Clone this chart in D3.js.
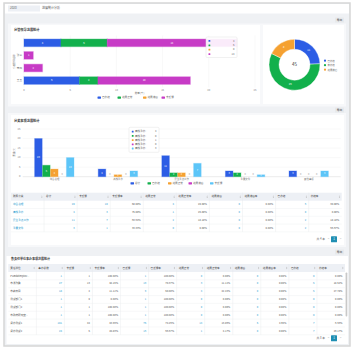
<!DOCTYPE html>
<html>
<head>
<meta charset="utf-8">
<script src="https://cdn.jsdelivr.net/npm/d3@7"></script>
<style>
  body { margin: 0; background: #fff; }
  svg { display: block; font-family: "Noto Sans CJK SC", "Noto Sans", sans-serif; }
</style>
</head>
<body>
<script>
// ---- data ----
const leaders = ["", "张三", "李四", "王五"];
const leaderDone = [4, 0, 0, 6];
const leaderNormal = [5, 0, 0, 2];
const leaderLate = [0, 0, 0, 0];
const leaderNoFeedback = [14, 1, 2, 10];
const leaderKeys = ["已办结", "进展正常", "进展滞后", "未反馈"];

const pieLabels = ["已办结", "未办结", "进展滞后"];
const pieValues = [11, 26, 8];

const categories = ["综合治理", "高铁重办", "民生重点工作", "重要文件", "其他事项"];
const catTotal = [20, 4, 11, 3, 3];
const catDone = [6, 0, 2, 2, 0];
const catNormal = [4, 1, 2, 0, 0];
const catLate = [0, 0, 0, 0, 0];
const catNoFeedback = [10, 3, 7, 1, 3];
const catKeys = ["总计", "已办结", "进展正常", "进展滞后", "未反馈"];

const table1Head = ["所属分类", "总计", "未反馈", "未反馈率", "进展正常", "进展正常率", "进展滞后", "进展滞后率", "已办结", "办结率"];
const table1Rows = [
  ["综合治理", "20", "10", "50.00%", "4", "20.00%", "0", "0.00%", "6", "30.00%"],
  ["高铁重办", "4", "3", "75.00%", "1", "25.00%", "0", "0.00%", "0", "0.00%"],
  ["民生重点工作", "11", "7", "63.64%", "2", "18.18%", "0", "0.00%", "2", "18.18%"],
  ["重要文件", "3", "1", "33.33%", "0", "0.00%", "0", "0.00%", "2", "66.67%"]
];

const table2Head = ["责任单位", "事办总数", "未反馈", "未反馈率", "已反馈", "已反馈率", "进展正常", "进展正常率", "进展滞后", "进展滞后率", "已办结", "办结率"];
const table2Rows = [
  ["PUBdatmpiov...", "1", "1", "100.00%", "1", "100.00%", "0", "0.00%", "0", "0.00%", "0", "0.00%"],
  ["市发改委", "27", "13", "48.15%", "19", "70.37%", "3", "11.11%", "0", "0.00%", "5", "18.52%"],
  ["市教育局", "18", "2", "11.11%", "9", "50.00%", "4", "22.22%", "0", "0.00%", "5", "27.78%"],
  ["测试部门1", "1", "0", "0.00%", "1", "100.00%", "0", "0.00%", "0", "0.00%", "0", "0.00%"],
  ["测试部门2", "1", "1", "100.00%", "1", "100.00%", "0", "0.00%", "0", "0.00%", "0", "0.00%"],
  ["市政府研究室...", "1", "1", "100.00%", "1", "100.00%", "0", "0.00%", "0", "0.00%", "0", "0.00%"],
  ["督办测试1", "101", "44", "43.56%", "75", "74.26%", "14", "13.86%", "5", "4.95%", "7", "6.93%"],
  ["督办测试2", "24", "5", "20.83%", "16", "66.67%", "1", "4.17%", "0", "0.00%", "7", "29.17%"]
];

const BLUE = "#2c5de5", GREEN = "#12b04c", ORANGE = "#f5a131", MAGENTA = "#c73bc6", LIGHT = "#5cc5f8";
const LINK = "#1f9bcf";

const svg = d3.select("body").append("svg").attr("width", 355).attr("height", 352);

function box(x, y, w, h, fill, stroke) {
  return svg.append("rect").attr("x", x).attr("y", y).attr("width", w).attr("height", h)
    .attr("fill", fill).attr("stroke", stroke || "none");
}
function label(x, y, t, size, color, anchor) {
  return svg.append("text").attr("x", x).attr("y", y).text(t)
    .attr("font-size", size || 3).attr("fill", color || "#555")
    .attr("text-anchor", anchor || "start").attr("dominant-baseline", "middle");
}
function exportBtn(y) {
  box(335, y, 9, 5, "#e7e9ec").attr("rx", 0.6);
  label(339.5, y + 2.6, "导出", 2.8, "#444", "middle");
}
function pager(y, text) {
  label(325, y, text, 2.8, "#666", "end");
  label(328.5, y, "<", 3, "#aaa", "middle");
  box(331, y - 3, 6, 6, "#1f8fb3").attr("rx", 0.6);
  label(334, y + 0.2, "1", 3, "#fff", "middle");
  label(340.5, y, ">", 3, "#aaa", "middle");
}

// ---- page frame ----
box(4, 3, 346, 343, "#eff1f4", "#d6d6d6").attr("stroke-width", 1.5);
box(5, 4, 344, 9.5, "#fff");
box(8, 5.5, 32, 6, "#edf0f5");
label(10, 8.6, "2020", 3, "#666");
label(42, 8.6, "进展统计分析", 3, "#555");

exportBtn(17.5);
box(8, 23.5, 338, 83, "#f7f8fa");
box(11, 25, 249, 79, "#fff");
box(263, 25, 81, 79, "#fff");

exportBtn(107.5);
box(8, 113, 338, 134, "#f7f8fa");
box(11, 115, 333, 130, "#fff");

exportBtn(249.5);
box(6.5, 256, 341.5, 88, "#fff");

// ---- chart 1 : stacked horizontal bars ----
label(14, 30.5, "分管领导进展统计", 3.2, "#333").attr("font-weight", "bold");

const x1 = d3.scaleLinear().domain([0, 25]).range([24, 255]);
const y1 = d3.scaleBand().domain(d3.range(leaders.length)).range([35.3, 88.1])
  .paddingInner(0.4).paddingOuter(0.3);

const g1 = svg.append("g");
g1.selectAll("line.grid").data(x1.ticks(5)).join("line")
  .attr("x1", d => x1(d)).attr("x2", d => x1(d)).attr("y1", 35.5).attr("y2", 87.5)
  .attr("stroke", "#eeeeee").attr("stroke-width", 0.4);
g1.selectAll("text.tick").data(x1.ticks(5)).join("text")
  .attr("x", d => x1(d)).attr("y", 90).text(d => d)
  .attr("font-size", 2.6).attr("fill", "#888").attr("text-anchor", "middle").attr("dominant-baseline", "middle");
g1.selectAll("text.ylab").data(leaders).join("text")
  .attr("x", 22).attr("y", (d, i) => y1(i) + y1.bandwidth() / 2).text(d => d)
  .attr("font-size", 2.6).attr("fill", "#777").attr("text-anchor", "end").attr("dominant-baseline", "middle");

const leaderTable = leaders.map((d, i) => ({
  i, "已办结": leaderDone[i], "进展正常": leaderNormal[i], "进展滞后": leaderLate[i], "未反馈": leaderNoFeedback[i]
}));
const stack1 = d3.stack().keys(leaderKeys)(leaderTable);
const colors1 = [BLUE, GREEN, ORANGE, MAGENTA];
stack1.forEach((layer, k) => {
  layer.forEach(seg => {
    const v = seg[1] - seg[0];
    if (v <= 0) return;
    const i = seg.data.i;
    g1.append("rect").attr("x", x1(seg[0])).attr("y", y1(i))
      .attr("width", x1(seg[1]) - x1(seg[0])).attr("height", y1.bandwidth())
      .attr("fill", colors1[k]).attr("stroke", colors1[k]).attr("stroke-opacity", 0.3).attr("stroke-width", 1.2);
    g1.append("text").attr("x", (x1(seg[0]) + x1(seg[1])) / 2).attr("y", y1(i) + y1.bandwidth() / 2)
      .text(v).attr("font-size", 2.6).attr("fill", "#fff").attr("text-anchor", "middle").attr("dominant-baseline", "middle");
  });
});
label(14.5, 61.5, "分管领导名称", 2.4, "#777", "middle").attr("transform", "rotate(-90,14.5,61.5)");
label(139.5, 93, "数量(个)", 2.6, "#777", "middle");

const leg1X = [97.5, 117.5, 143, 161.5];
leaderKeys.forEach((k, i) => {
  box(leg1X[i], 96.5, 3.5, 2.2, colors1[i]).attr("rx", 0.4);
  label(leg1X[i] + 4.5, 97.7, k, 2.6, "#666");
});

// tooltip over first bar
box(206, 37, 31, 20.5, "rgba(255,255,255,0.9)", "#e2e2e2").attr("rx", 1).attr("stroke-width", 0.5);
[leaderDone[0], leaderNormal[0], leaderLate[0], leaderNoFeedback[0]].forEach((v, i) => {
  box(208.5, 40 + i * 4.4, 1.8, 1.8, colors1[i]).attr("rx", 0.3);
  label(234.5, 40.9 + i * 4.4, v, 2.6, "#666", "end");
});

// ---- donut ----
const pieColors = [BLUE, GREEN, ORANGE];
const pie = d3.pie().sort(null)(pieValues);
const arc = d3.arc().innerRadius(15.5).outerRadius(25.5);
const gp = svg.append("g").attr("transform", "translate(294.5,64.7)");
gp.selectAll("path").data(pie).join("path").attr("d", arc)
  .attr("fill", (d, i) => pieColors[i]).attr("stroke", "#fff").attr("stroke-width", 0.4);
gp.selectAll("text").data(pie).join("text")
  .attr("transform", d => "translate(" + arc.centroid(d) + ")").text(d => d.data)
  .attr("font-size", 2.6).attr("fill", "#fff").attr("text-anchor", "middle").attr("dominant-baseline", "middle");
label(294.5, 65, d3.sum(pieValues), 4.5, "#333", "middle");
pieLabels.forEach((k, i) => {
  svg.append("circle").attr("cx", 325).attr("cy", 60.7 + i * 4.5).attr("r", 1.1).attr("fill", pieColors[i]);
  label(327.5, 60.9 + i * 4.5, k, 2.4, "#666");
});

// ---- chart 2 : grouped bars ----
label(14, 121, "分类事项进展统计", 3.2, "#333").attr("font-weight", "bold");
const x2 = d3.scaleBand().domain(categories).range([22.7, 340.7]);
const xs = d3.scaleBand().domain(catKeys).range([0, x2.bandwidth()]).paddingOuter(1.5);
const y2 = d3.scaleLinear().domain([0, 25]).range([176.7, 129]);
const colors2 = [BLUE, GREEN, ORANGE, MAGENTA, LIGHT];
const series2 = [catTotal, catDone, catNormal, catLate, catNoFeedback];

const g2 = svg.append("g");
g2.selectAll("line").data(y2.ticks(5)).join("line")
  .attr("x1", 22.7).attr("x2", 340.7).attr("y1", d => y2(d)).attr("y2", d => y2(d))
  .attr("stroke", d => d === 0 ? "#cfcfcf" : "#eeeeee").attr("stroke-width", 0.4);
g2.selectAll("text.tick").data(y2.ticks(5)).join("text")
  .attr("x", 20.5).attr("y", d => y2(d)).text(d => d)
  .attr("font-size", 2.6).attr("fill", "#888").attr("text-anchor", "end").attr("dominant-baseline", "middle");
g2.selectAll("text.cat").data(categories).join("text")
  .attr("x", d => x2(d) + x2.bandwidth() / 2).attr("y", 179.8).text(d => d)
  .attr("font-size", 2.4).attr("fill", "#777").attr("text-anchor", "middle").attr("dominant-baseline", "middle");
label(14.7, 152, "数量(个)", 2.4, "#777", "middle").attr("transform", "rotate(-90,14.7,152)");

categories.forEach((c, ci) => {
  catKeys.forEach((k, ki) => {
    const v = series2[ki][ci];
    const bx = x2(c) + xs(k);
    const bw = xs.bandwidth() - 0.4;
    if (v > 0) {
      g2.append("rect").attr("x", bx).attr("y", y2(v)).attr("width", bw).attr("height", y2(0) - y2(v))
        .attr("fill", colors2[ki]).attr("stroke", colors2[ki]).attr("stroke-opacity", 0.3).attr("stroke-width", 1);
      g2.append("text").attr("x", bx + bw / 2).attr("y", (y2(v) + y2(0)) / 2).text(v)
        .attr("font-size", 2.4).attr("fill", "#fff").attr("text-anchor", "middle").attr("dominant-baseline", "middle");
    } else {
      g2.append("text").attr("x", bx + bw / 2).attr("y", y2(0) - 2).text(v)
        .attr("font-size", 2.4).attr("fill", "#999").attr("text-anchor", "middle").attr("dominant-baseline", "middle");
    }
  });
});

const leg2X = [130.5, 147.5, 168, 188.5, 210];
catKeys.forEach((k, i) => {
  box(leg2X[i], 182.2, 3.5, 2.2, colors2[i]).attr("rx", 0.4);
  label(leg2X[i] + 4.5, 183.4, k, 2.6, "#666");
});

// tooltip for second group
box(129, 127.3, 30, 25, "rgba(255,255,255,0.95)", "#e2e2e2").attr("rx", 1).attr("stroke-width", 0.5);
series2.forEach((s, i) => {
  box(131.8, 130.8 + i * 4.2, 1.8, 1.8, colors2[i]).attr("rx", 0.3);
  label(135, 131.7 + i * 4.2, categories[1] + ":", 2.6, "#666");
  label(156.5, 131.7 + i * 4.2, s[1], 2.6, "#666", "end");
});

// ---- tables ----
function drawTable(head, rows, x0, x1r, y0, headH, rowH, linkCols, maxY) {
  const xc = d3.scaleBand().domain(d3.range(head.length)).range([x0, x1r]);
  const cw = xc.bandwidth();
  box(x0, y0, x1r - x0, headH, "#edf0f5");
  head.forEach((h, i) => {
    label(xc(i) + 2, y0 + headH / 2, h, 2.6, "#444");
    const sx = xc(i) + cw - 2.2, sy = y0 + headH / 2;
    svg.append("path").attr("d", `M${sx - 0.7},${sy - 0.3}L${sx + 0.7},${sy - 0.3}L${sx},${sy - 1.3}Z`).attr("fill", "#bbb");
    svg.append("path").attr("d", `M${sx - 0.7},${sy + 0.3}L${sx + 0.7},${sy + 0.3}L${sx},${sy + 1.3}Z`).attr("fill", "#bbb");
    if (i > 0) svg.append("line").attr("x1", xc(i)).attr("x2", xc(i)).attr("y1", y0).attr("y2", maxY)
      .attr("stroke", "#e6e8eb").attr("stroke-width", 0.4);
  });
  rows.forEach((r, ri) => {
    const ry = y0 + headH + ri * rowH;
    if (ry + rowH > maxY + 0.5) return;
    svg.append("line").attr("x1", x0).attr("x2", x1r).attr("y1", ry + rowH).attr("y2", ry + rowH)
      .attr("stroke", "#eceef1").attr("stroke-width", 0.4);
    r.forEach((v, ci) => {
      const col = linkCols.includes(ci) ? LINK : "#555";
      if (ci === 0) label(xc(ci) + 2, ry + rowH / 2, v, 2.6, col);
      else label(xc(ci) + cw - 2.5, ry + rowH / 2, v, 2.6, col, "end");
    });
  });
}

drawTable(table1Head, table1Rows, 11, 341.7, 192.7, 8, 7.8, [0, 1, 2, 4, 6, 8], 231.9);
pager(239.3, "共 4 条");

label(11, 259.5, "各责任单位事办事项进展统计", 3.0, "#333").attr("font-weight", "bold");
drawTable(table2Head, table2Rows, 8.3, 345, 264, 8, 7.85, [1, 4, 6, 8, 10], 334.8);
box(345.6, 272.5, 1.7, 44, "#c9c9c9").attr("rx", 0.8);
pager(338.3, "共 8 条");
</script>
</body>
</html>
